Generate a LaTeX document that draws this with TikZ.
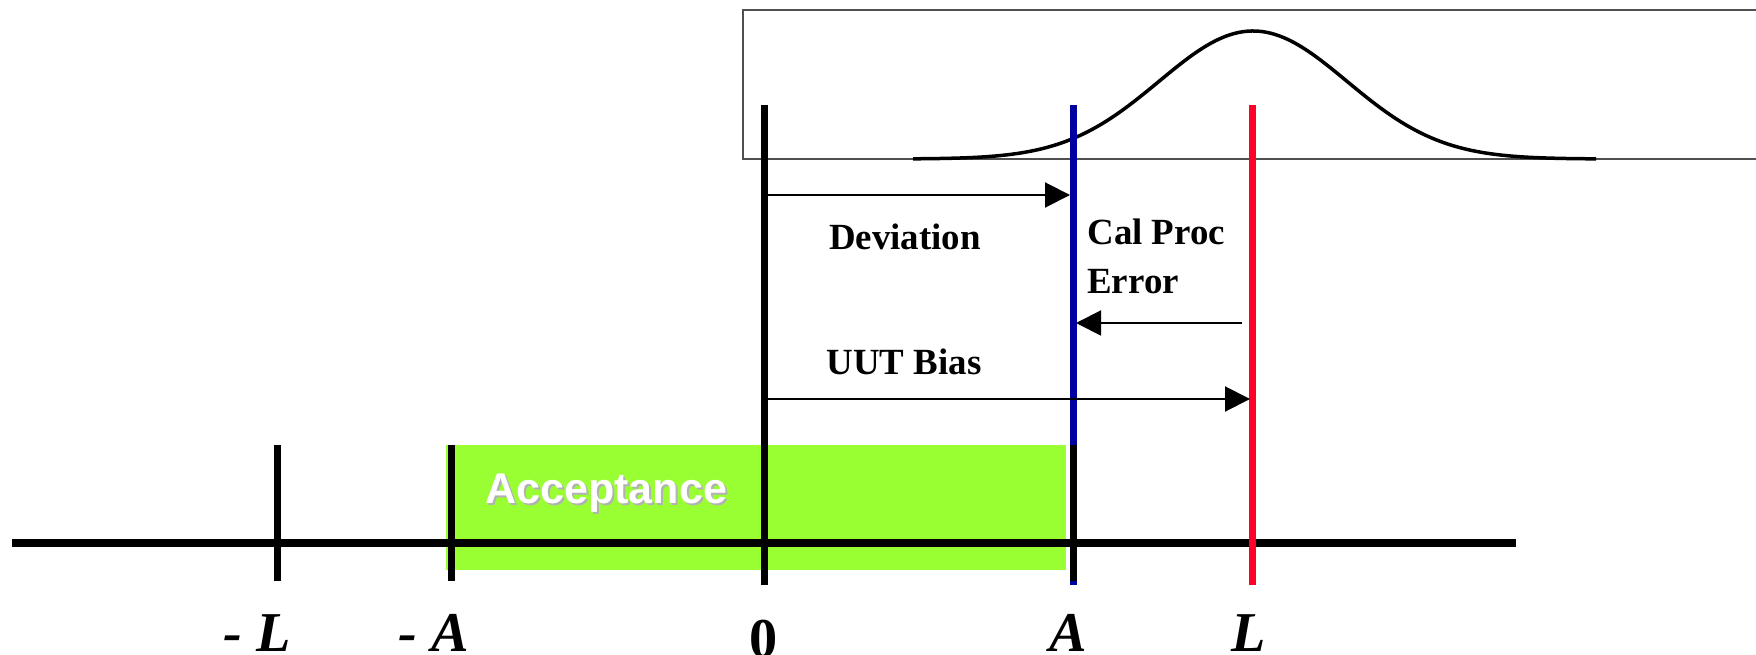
\documentclass[tikz,border=0pt]{standalone}
\usepackage{fontspec}
\setmainfont{Liberation Serif}
\setsansfont{Liberation Sans}
\usepackage{tikz}
\usetikzlibrary{arrows.meta}
\definecolor{accgreen}{RGB}{153,255,51}
\definecolor{devblue}{RGB}{0,0,160}
\definecolor{limred}{RGB}{255,0,40}
\definecolor{framegray}{RGB}{80,80,80}

\begin{document}
\begin{tikzpicture}[
    x=0.2mm, y=-0.2mm,
    tick/.style={line width=1.4mm},
    arr/.style={-{Triangle[length=5mm,width=5mm]}, line width=0.4mm},
    lbl/.style={font=\fontsize{21}{25}\selectfont\bfseries, inner sep=0pt},
    poslbl/.style={font=\fontsize{32}{36}\selectfont\bfseries\itshape, inner sep=0pt, anchor=base}
]
\useasboundingbox (0,0) rectangle (1756,655);
% distribution box
\draw[framegray, line width=0.4mm] (1760,10) -- (743,10) -- (743,159) -- (1760,159);
\draw[line width=0.7mm, domain=913:1596, samples=150]
    plot (\x, {159-128*exp(-((\x-1253)/94)^2/2)});
% acceptance band
\fill[accgreen] (446,445) rectangle (1066,570);
\node[font=\fontsize{24.5}{28}\selectfont\sffamily\bfseries, text=gray!60, inner sep=0pt, anchor=base west] (accshadow) at (487,505) {Acceptance};
\node[font=\fontsize{24.5}{28}\selectfont\sffamily\bfseries, text=white, inner sep=0pt, anchor=base west] (acc) at (485,503) {Acceptance};
% axis and ticks
\draw[line width=1.6mm] (12,543) -- (1516,543);
\draw[tick] (277,445) -- (277,581);
\draw[tick] (451,445) -- (451,581);
\draw[tick] (764,105) -- (764,585);
\draw[tick, devblue] (1073,105) -- (1073,585);
\draw[tick] (1073,445) -- (1073,581);
\draw[tick, limred] (1252,105) -- (1252,585);
% arrows
\coordinate (dev0) at (764,195);
\coordinate (dev1) at (1070,195);
\coordinate (cpe0) at (1242,323);
\coordinate (cpe1) at (1076,323);
\coordinate (uut0) at (764,399);
\coordinate (uut1) at (1250,399);
\draw[arr] (dev0) -- (dev1);
\draw[arr] (cpe0) -- (cpe1);
\draw[arr] (uut0) -- (uut1);
\node[lbl, anchor=base] (devlbl) at (905,250) {Deviation};
\node[lbl, anchor=base west, align=left] (cpelbl) at (1087,294) {Cal Proc\\[3pt]Error};
\node[lbl, anchor=base] (uutlbl) at (904,374) {UUT Bias};
% positions
\node[poslbl] (mL) at (257,651) {- L};
\node[poslbl] (mA) at (434,651) {- A};
\node[poslbl, font=\fontsize{32}{36}\selectfont\bfseries] (zero) at (764,657) {0};
\node[poslbl] (pA) at (1068,651) {A};
\node[poslbl] (pL) at (1249,651) {L};
\end{tikzpicture}
\end{document}
